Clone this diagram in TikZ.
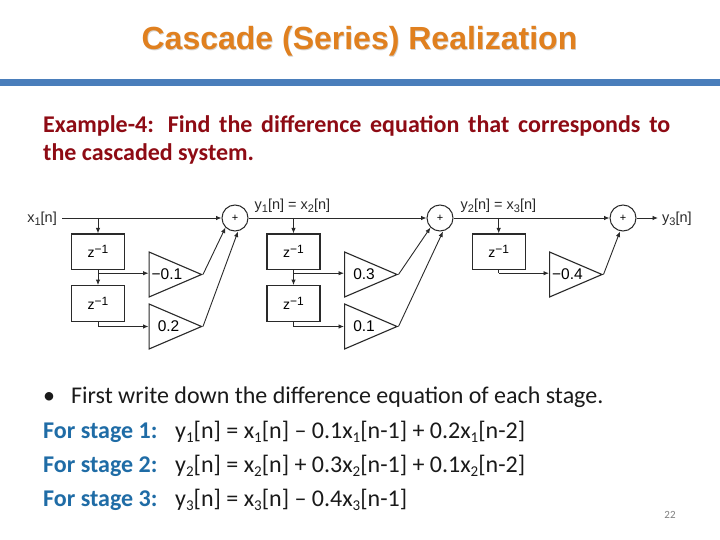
\documentclass[tikz,border=0pt]{standalone}
\usepackage{fontspec}
\setmainfont{Carlito}
\newfontfamily\diagfont{Liberation Sans}
\usetikzlibrary{arrows.meta,shapes.geometric,calc}
\definecolor{titleor}{HTML}{E0801F}
\definecolor{rulebl}{HTML}{4A7EBB}
\definecolor{bodyink}{HTML}{1A1A1A}
\definecolor{wireink}{HTML}{2A2A2A}
\definecolor{exred}{HTML}{8E0B14}
\definecolor{stageblue}{HTML}{1F6CA6}
\newcommand{\sbs}[1]{\raisebox{-4pt}{\fontsize{15}{15}\selectfont #1}}
\newcommand{\dsb}[1]{\raisebox{-2.5pt}{\fontsize{11}{11}\selectfont #1}}
\newcommand{\zinv}{z\raisebox{4pt}{\fontsize{12}{12}\selectfont −1}}
\tikzset{
  x=1pt,y=-1pt,
  wire/.style={draw=wireink,line width=0.9pt},
  arr/.style={wire,-{Latex[length=5.5pt,width=4.5pt]}},
  delaybox/.style={draw=wireink,line width=1.3pt,minimum width=53pt,minimum height=35.5pt,inner sep=0pt,font=\diagfont\fontsize{14}{14}\selectfont},
  gainbox/.style={draw=wireink,line width=1.1pt,isosceles triangle,isosceles triangle stretches,shape border rotate=0,minimum width=45pt,minimum height=52.5pt,inner sep=0pt,anchor=lower side,font=\diagfont\fontsize{15.5}{15.5}\selectfont},
  sumnode/.style={draw=wireink,line width=1pt,circle,minimum size=26pt,inner sep=0pt,font=\diagfont\fontsize{11}{11}\selectfont},
  siglabel/.style={inner sep=0pt,font=\diagfont\fontsize{14.5}{14.5}\selectfont,text=wireink},
  bodytext/.style={anchor=base west,inner sep=0pt,font=\fontsize{24}{28}\selectfont,text=bodyink},
  extext/.style={bodytext,font=\bfseries\fontsize{24}{28}\selectfont,text=exred},
  stagetext/.style={bodytext,font=\bfseries\fontsize{24}{28}\selectfont,text=stageblue},
}
\begin{document}
\begin{tikzpicture}
\useasboundingbox (0,0) rectangle (720,540);
\fill[white] (0,0) rectangle (720,540);
% title
\node[inner sep=0pt,font=\diagfont\bfseries\fontsize{32}{32}\selectfont,text=black!18] at (360.2,42.3) {Cascade (Series) Realization};
\node (title) [inner sep=0pt,font=\diagfont\bfseries\fontsize{32}{32}\selectfont,text=titleor] at (359.5,41.5) {Cascade (Series) Realization};
\fill[rulebl] (0,79) rectangle (720,86);
% intro
\node (intro1) [extext] at (43,133) {\makebox[627pt][s]{Example-4: Find the difference equation that corresponds to}};
\node (intro2) [extext] at (43,161) {the cascaded system.};
% diagram
\node (x1) [siglabel,anchor=east] at (57,219) {x\dsb{1}[n]};
\node (s1) [sumnode] at (235,218) {+};
\node (s2) [sumnode] at (440,218) {+};
\node (s3) [sumnode] at (623,218) {+};
\node (y3) [siglabel,anchor=west] at (662,219) {y\dsb{3}[n]};
\node (l1) [siglabel,anchor=west] at (254.5,206) {y\dsb{1}[n] = x\dsb{2}[n]};
\node (l2) [siglabel,anchor=west] at (460.5,206) {y\dsb{2}[n] = x\dsb{3}[n]};
% stage 1
\node (a1) [delaybox] at (98,251.8) {\zinv};
\node (a2) [delaybox] at (98,303.5) {\zinv};
\node (ga1) [gainbox] at (148.5,274.5) {−0.1};
\node (ga2) [gainbox] at (148.5,326.5) {\hspace{5pt}0.2};
% stage 2
\node (b1) [delaybox] at (293.5,251.8) {\zinv};
\node (b2) [delaybox] at (293.5,303.5) {\zinv};
\node (gb1) [gainbox] at (344,274.5) {\hspace{5pt}0.3};
\node (gb2) [gainbox] at (344,326.5) {\hspace{5pt}0.1};
% stage 3
\node (c1) [delaybox] at (498.7,251.8) {\zinv};
\node (gc1) [gainbox] at (549,274.5) {−0.4};
% junctions
\coordinate (ja) at (a1.north |- s1.west);
\coordinate (jb) at (b1.north |- s1.west);
\coordinate (jc) at (c1.north |- s1.west);
\coordinate (ja1) at ($(a1.south)+(0,3)$);
\coordinate (jb1) at ($(b1.south)+(0,3)$);
\coordinate (jc1) at ($(c1.south)+(0,3)$);
% wires
\draw[arr] (x1.east)++(5,-1) -- (s1.west);
\draw[arr] (s1.east) -- (s2.west);
\draw[arr] (s2.east) -- (s3.west);
\draw[arr] (s3.east) -- ($(y3.west)+(-4,-1)$);
\draw[arr] (ja) -- (a1.north);
\draw[arr] (jb) -- (b1.north);
\draw[arr] (jc) -- (c1.north);
\draw[arr] (a1.south) -- (a2.north);
\draw[arr] (b1.south) -- (b2.north);
\draw[wire] (c1.south) -- (jc1);
\draw[arr] (ja1) -- (ja1 -| ga1.lower side);
\draw[arr] (jb1) -- (jb1 -| gb1.lower side);
\draw[arr] (jc1) -- (jc1 -| gc1.lower side);
\draw[arr] (a2.south) |- (ga2.lower side);
\draw[arr] (b2.south) |- (gb2.lower side);
\draw[arr] (ga1.apex) -- (s1.south west);
\draw[arr] (ga2.apex) -- ($(s1.south)+(3,0)$);
\draw[arr] (gb1.apex) -- (s2.south west);
\draw[arr] (gb2.apex) -- ($(s2.south)+(3,0)$);
\draw[arr] (gc1.apex) -- ($(s3.south)+(-3,0)$);
% equations
\node (e0) [bodytext] at (43,403) {\makebox[28pt][l]{•}First write down the difference equation of each stage.};
\node (f1) [stagetext] at (43,438) {For stage 1:};
\node (f2) [stagetext] at (43,472) {For stage 2:};
\node (f3) [stagetext] at (43,506) {For stage 3:};
\node (e1) [bodytext] at (175,438) {y\sbs{1}[n] = x\sbs{1}[n] – 0.1x\sbs{1}[n-1] + 0.2x\sbs{1}[n-2]};
\node (e2) [bodytext] at (175,472) {y\sbs{2}[n] = x\sbs{2}[n] + 0.3x\sbs{2}[n-1] + 0.1x\sbs{2}[n-2]};
\node (e3) [bodytext] at (175,506) {y\sbs{3}[n] = x\sbs{3}[n] – 0.4x\sbs{3}[n-1]};
\node (pg) [inner sep=0pt,font=\fontsize{11}{11}\selectfont,text=gray] at (670,515) {22};
\end{tikzpicture}
\end{document}
